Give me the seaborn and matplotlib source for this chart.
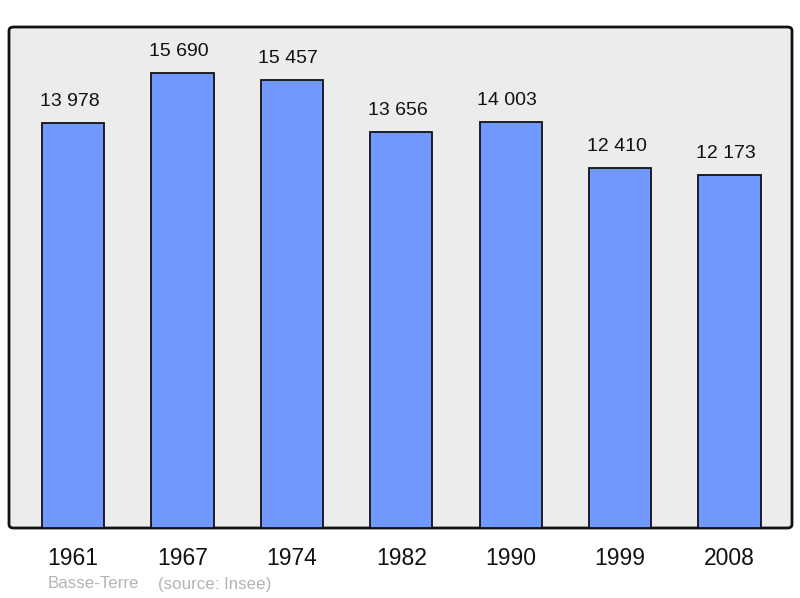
import matplotlib
matplotlib.use("Agg")
import matplotlib.pyplot as plt
import seaborn as sns
import pandas as pd
from matplotlib.patches import FancyBboxPatch

years = ["1961", "1967", "1974", "1982", "1990", "1999", "2008"]
population = [13978, 15690, 15457, 13656, 14003, 12410, 12173]
value_labels = ["13 978", "15 690", "15 457", "13 656", "14 003", "12 410", "12 173"]
place = "Basse-Terre"
source = "(source: Insee)"

sns.set_theme(style="white")
plt.rcParams['font.family'] = ['Liberation Sans', 'DejaVu Sans']

df = pd.DataFrame({"year": years, "pop": population})

fig = plt.figure(figsize=(8, 5.98), dpi=100)
W, H = 800, 598

# rounded panel background (drawn in its own background axes)
bg = fig.add_axes([0, 0, 1, 1], zorder=0)
bg.set_axis_off()
panel = FancyBboxPatch((9 / W, 1 - 528 / H), (792 - 9) / W, (528 - 27) / H,
                       boxstyle="round,pad=0,rounding_size=0.006",
                       transform=fig.transFigure, facecolor="#ececec",
                       edgecolor="#111111", linewidth=2.0)
bg.add_patch(panel)

ax = fig.add_axes([9 / W, 1 - 528 / H, (792 - 9) / W, (528 - 27) / H], zorder=1)
ax.set_facecolor("none")

sns.barplot(data=df, x="year", y="pop", color="#7098ff", saturation=1,
            width=0.57, edgecolor="#111111", linewidth=1.3, ax=ax, zorder=2)

ax.set_xlim(-0.585, 6.571)
ax.set_ylim(0, 17292)
for s in ax.spines.values():
    s.set_visible(False)
ax.set_yticks([])
ax.set_xlabel("")
ax.set_ylabel("")
ax.tick_params(axis="x", length=0, labelsize=16.5, pad=14, colors="#111111")

for i, (v, lab) in enumerate(zip(population, value_labels)):
    ax.annotate(lab, (i, v), xytext=(-2.5, 15.5), textcoords="offset points",
                ha="center", va="center", fontsize=14, color="#111111")

fig.text(48 / W, 1 - 584 / H, place, fontsize=12.2, color="#b4b4b4", va="center")
fig.text(158 / W, 1 - 584 / H, source, fontsize=12.2, color="#b4b4b4", va="center")

fig.savefig("out.png", dpi=100)
